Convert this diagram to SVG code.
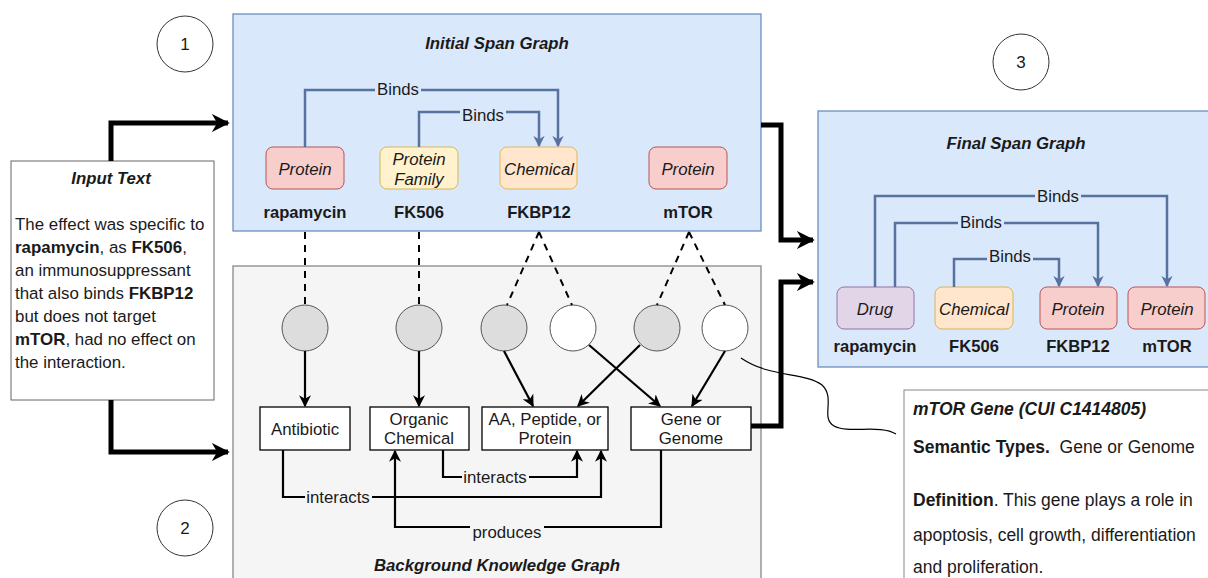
<svg xmlns="http://www.w3.org/2000/svg" width="1208" height="578" viewBox="0 0 1208 578">
<defs>
<style>
text{font-family:"Liberation Sans",Arial,sans-serif;fill:#1a1a1a}
.t{font-size:16.8px;font-weight:bold;font-style:italic;text-anchor:middle}
.lab{font-size:16.8px;text-anchor:middle}
.it{font-size:16.8px;font-style:italic;text-anchor:middle}
.b{font-size:16.6px;font-weight:bold;text-anchor:middle}
.body{font-size:16.9px}
.info{font-size:17.5px;white-space:pre}
.num{font-size:17px;text-anchor:middle}
.blue{fill:none;stroke:#5872a0;stroke-width:2.5}
.blk{fill:none;stroke:#000;stroke-width:2.2}
.thick{fill:none;stroke:#000;stroke-width:5}
.dash{fill:none;stroke:#000;stroke-width:2;stroke-dasharray:7,6}
.box{fill:#fff;stroke:#000;stroke-width:1.3}
.gc{fill:#dddddd;stroke:#555;stroke-width:1}
.wc{fill:#fff;stroke:#555;stroke-width:1}
.bg{fill:#f5f5f5}
</style>
<marker id="ab" viewBox="0 0 10 10" refX="9" refY="5" markerWidth="4.5" markerHeight="4.5" orient="auto" markerUnits="strokeWidth"><path d="M0,0 L10,5 L0,10 L3,5 z" fill="#5872a0"/></marker>
<marker id="ak" viewBox="0 0 10 10" refX="9" refY="5" markerWidth="5.5" markerHeight="5.5" orient="auto" markerUnits="strokeWidth"><path d="M0,0 L10,5 L0,10 L3,5 z" fill="#000"/></marker>
<marker id="at" viewBox="0 0 10 10" refX="9" refY="5" markerWidth="3.6" markerHeight="3.6" orient="auto" markerUnits="strokeWidth"><path d="M0,0 L10,5 L0,10 L3,5 z" fill="#000"/></marker>
</defs>

<!-- containers -->
<g id="initial-span-graph">
<rect x="233" y="14" width="528" height="217" fill="#dae8fc" stroke="#6c8ebf" stroke-width="1.3"/>
<text class="t" x="497" y="49">Initial Span Graph</text>
</g>
<g id="background-graph">
<rect x="233" y="266" width="528" height="320" fill="#f5f5f5" stroke="#888" stroke-width="1.3"/>
<text class="t" x="497" y="571">Background Knowledge Graph</text>
</g>
<g id="final-span-graph">
<rect x="818" y="111" width="400" height="256" fill="#dae8fc" stroke="#6c8ebf" stroke-width="1.3"/>
<text class="t" x="1016" y="149">Final Span Graph</text>
</g>

<!-- numbered circles -->
<g id="n1"><circle cx="185" cy="44" r="28" fill="#fff" stroke="#333" stroke-width="1"/><text class="num" x="185" y="50">1</text></g>
<g id="n2"><circle cx="185" cy="528" r="28" fill="#fff" stroke="#333" stroke-width="1"/><text class="num" x="185" y="534">2</text></g>
<g id="n3"><circle cx="1021" cy="62" r="28" fill="#fff" stroke="#333" stroke-width="1"/><text class="num" x="1021" y="68">3</text></g>

<!-- input text -->
<g id="input-text">
<rect x="11" y="161" width="203" height="239" fill="#fff" stroke="#666" stroke-width="1"/>
<text class="t" x="111" y="184">Input Text</text>
<text class="body" x="15" y="230">The effect was specific to</text>
<text class="body" x="15" y="253"><tspan font-weight="bold">rapamycin</tspan>, as <tspan font-weight="bold">FK506</tspan>,</text>
<text class="body" x="15" y="276">an immunosuppressant</text>
<text class="body" x="15" y="299">that also binds <tspan font-weight="bold">FKBP12</tspan></text>
<text class="body" x="15" y="322">but does not target</text>
<text class="body" x="15" y="345"><tspan font-weight="bold">mTOR</tspan>, had no effect on</text>
<text class="body" x="15" y="368">the interaction.</text>
</g>

<!-- initial span nodes -->
<g id="i-rapamycin"><rect x="266" y="147" width="78" height="42" rx="7" fill="#f8cecc" stroke="#b85450"/><text class="it" x="305" y="175">Protein</text><text class="b" x="305" y="218">rapamycin</text></g>
<g id="i-fk506"><rect x="380" y="147" width="78" height="42" rx="7" fill="#fff2cc" stroke="#d6b656"/><text class="it" x="419" y="165">Protein</text><text class="it" x="419" y="185">Family</text><text class="b" x="419" y="218">FK506</text></g>
<g id="i-fkbp12"><rect x="500" y="147" width="77" height="42" rx="7" fill="#ffe6cc" stroke="#d79b00" stroke-opacity="0.6"/><text class="it" x="539" y="175">Chemical</text><text class="b" x="539" y="218">FKBP12</text></g>
<g id="i-mtor"><rect x="649" y="147" width="78" height="42" rx="7" fill="#f8cecc" stroke="#b85450"/><text class="it" x="688" y="175">Protein</text><text class="b" x="688" y="218">mTOR</text></g>

<!-- background nodes -->
<g id="c1"><circle class="gc" cx="305" cy="328" r="23"/></g>
<g id="c2"><circle class="gc" cx="419" cy="328" r="23"/></g>
<g id="c3"><circle class="gc" cx="504" cy="328" r="23"/></g>
<g id="c4"><circle class="wc" cx="573" cy="328" r="23"/></g>
<g id="c5"><circle class="gc" cx="657" cy="328" r="23"/></g>
<g id="c6"><circle class="wc" cx="725" cy="328" r="23"/></g>
<g id="antibiotic"><rect class="box" x="260" y="407" width="90" height="43"/><text class="lab" x="305" y="435">Antibiotic</text></g>
<g id="organic-chemical"><rect class="box" x="370" y="407" width="99" height="43"/><text class="lab" x="419" y="425">Organic</text><text class="lab" x="419" y="444">Chemical</text></g>
<g id="aa-peptide"><rect class="box" x="482" y="407" width="126" height="43"/><text class="lab" x="545" y="425">AA, Peptide, or</text><text class="lab" x="545" y="444">Protein</text></g>
<g id="gene-genome"><rect class="box" x="631" y="407" width="120" height="43"/><text class="lab" x="691" y="425">Gene or</text><text class="lab" x="691" y="444">Genome</text></g>

<!-- final span nodes -->
<g id="f-rapamycin"><rect x="837" y="287" width="77" height="42" rx="7" fill="#e1d5e7" stroke="#9673a6"/><text class="it" x="875" y="315">Drug</text><text class="b" x="875" y="352">rapamycin</text></g>
<g id="f-fk506"><rect x="935" y="287" width="78" height="42" rx="7" fill="#ffe6cc" stroke="#d6b656"/><text class="it" x="974" y="315">Chemical</text><text class="b" x="974" y="352">FK506</text></g>
<g id="f-fkbp12"><rect x="1040" y="287" width="77" height="42" rx="7" fill="#f8cecc" stroke="#b85450"/><text class="it" x="1078" y="315">Protein</text><text class="b" x="1078" y="352">FKBP12</text></g>
<g id="f-mtor"><rect x="1128" y="287" width="77" height="42" rx="7" fill="#f8cecc" stroke="#b85450"/><text class="it" x="1167" y="315">Protein</text><text class="b" x="1167" y="352">mTOR</text></g>

<!-- info box -->
<g id="info">
<rect x="904" y="390" width="320" height="200" fill="#fff" stroke="#888" stroke-width="1"/>
<text class="info" x="913" y="415" font-weight="bold" font-style="italic">mTOR Gene (CUI C1414805)</text>
<text class="info" x="913" y="453"><tspan font-weight="bold">Semantic Types.</tspan>  Gene or Genome</text>
<text class="info" x="913" y="506"><tspan font-weight="bold">Definition</tspan>. This gene plays a role in</text>
<text class="info" x="913" y="541">apoptosis, cell growth, differentiation</text>
<text class="info" x="913" y="573">and proliferation.</text>
</g>

<!-- connectors -->
<g id="connectors">
<path class="thick" d="M111,161 V123 H228" marker-end="url(#at)"/>
<path class="thick" d="M111,400 V452 H228" marker-end="url(#at)"/>
<path class="thick" d="M761,125 H781 V240 H813" marker-end="url(#at)"/>
<path class="thick" d="M751,426 H781 V282 H813" marker-end="url(#at)"/>

<path class="blue" d="M305,147 V90 H558 V146" marker-end="url(#ab)"/>
<path class="blue" d="M419,147 V112 H539 V146" marker-end="url(#ab)"/>
<rect x="375" y="80" width="46" height="18" fill="#dae8fc"/>
<text class="lab" x="398" y="95">Binds</text>
<rect x="460" y="104" width="46" height="17" fill="#dae8fc"/>
<text class="lab" x="483" y="121">Binds</text>

<path class="blue" d="M875,287 V196 H1167 V286" marker-end="url(#ab)"/>
<path class="blue" d="M895,287 V223 H1098 V286" marker-end="url(#ab)"/>
<path class="blue" d="M954,287 V259 H1059 V286" marker-end="url(#ab)"/>
<rect x="1035" y="187" width="46" height="17" fill="#dae8fc"/>
<text class="lab" x="1058" y="202">Binds</text>
<rect x="958" y="214" width="46" height="17" fill="#dae8fc"/>
<text class="lab" x="981" y="228">Binds</text>
<rect x="987" y="248" width="46" height="17" fill="#dae8fc"/>
<text class="lab" x="1010" y="262">Binds</text>

<path class="dash" d="M305,232 V305"/>
<path class="dash" d="M419,232 V305"/>
<path class="dash" d="M539,232 L507,305 M539,232 L572,305"/>
<path class="dash" d="M689,232 L657,305 M689,232 L725,305"/>

<path class="blk" d="M305,351 V406" marker-end="url(#ak)"/>
<path class="blk" d="M419,351 V406" marker-end="url(#ak)"/>
<path class="blk" d="M504,351 L533,406" marker-end="url(#ak)"/>
<path class="blk" d="M589,345 L660,406" marker-end="url(#ak)"/>
<path class="blk" d="M640,345 L578,406" marker-end="url(#ak)"/>
<path class="blk" d="M725,351 L692,406" marker-end="url(#ak)"/>

<path class="blk" d="M443,450 V477 H577 V451" marker-end="url(#ak)"/>
<path class="blk" d="M283,450 V497 H601 V451" marker-end="url(#ak)"/>
<path class="blk" d="M661,450 V527 H395 V451" marker-end="url(#ak)"/>
<rect x="462" y="468" width="67" height="18" class="bg"/>
<text class="lab" x="495" y="483">interacts</text>
<rect x="305" y="488" width="67" height="18" class="bg"/>
<text class="lab" x="338" y="503">interacts</text>
<rect x="470" y="518" width="74" height="20" class="bg"/>
<text class="lab" x="507" y="538">produces</text>

<path d="M741,358 C770,378 805,372 822,385 C836,398 820,418 834,426 C848,434 880,424 896,434" fill="none" stroke="#000" stroke-width="1.2"/>
</g>
</svg>
